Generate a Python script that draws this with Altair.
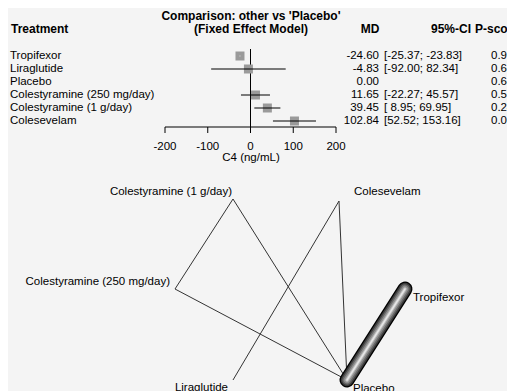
import altair as alt
import pandas as pd

# ---------------- data ----------------
treatments = ["Tropifexor", "Liraglutide", "Placebo",
              "Colestyramine (250 mg/day)", "Colestyramine (1 g/day)", "Colesevelam"]
md = [-24.60, -4.83, 0.00, 11.65, 39.45, 102.84]
ci_lower = [-25.37, -92.00, None, -22.27, 8.95, 52.52]
ci_upper = [-23.83, 82.34, None, 45.57, 69.95, 153.16]
pscore = [0.93, 0.67, 0.64, 0.51, 0.24, 0.00]
axis_ticks = [-200, -100, 0, 100, 200]

node_names = ["Colestyramine (1 g/day)", "Colesevelam", "Colestyramine (250 mg/day)",
              "Tropifexor", "Liraglutide", "Placebo"]
node_x = [-57, 49, -115, 115, -57, 57]
node_y = [91, 89, 1, 1, -90, -90]
edge_from = ["Colestyramine (1 g/day)", "Colestyramine (1 g/day)", "Colestyramine (250 mg/day)",
             "Colesevelam", "Colesevelam", "Tropifexor"]
edge_to = ["Colestyramine (250 mg/day)", "Placebo", "Placebo",
           "Liraglutide", "Placebo", "Placebo"]
edge_studies = [1, 1, 1, 1, 1, 5]

FONT = "Liberation Sans"
FS = 11.5

# ---------------- tables ----------------
def fmt_ci(lo, hi):
    if lo is None:
        return ""
    return "[" + (" " if lo >= 0 and lo < 10 else "") + f"{lo:.2f}; {hi:.2f}]"

forest = pd.DataFrame({
    "row": list(range(len(treatments))),
    "treatment": treatments,
    "md": md,
    "lower": ci_lower,
    "upper": ci_upper,
    "md_text": [f"{v:.2f}" for v in md],
    "ci_text": [fmt_ci(lo, hi) for lo, hi in zip(ci_lower, ci_upper)],
    "p_text": [f"{p:.2f}" for p in pscore],
})
ticks = pd.DataFrame({"t": axis_ticks, "lab": [str(t) for t in axis_ticks]})

pos = {n: (x, y) for n, x, y in zip(node_names, node_x, node_y)}
edges = pd.DataFrame({
    "a": edge_from, "b": edge_to, "n": edge_studies,
    "x": [pos[a][0] for a in edge_from], "y": [pos[a][1] for a in edge_from],
    "x2": [pos[b][0] for b in edge_to], "y2": [pos[b][1] for b in edge_to],
})
nodes = pd.DataFrame({"name": node_names, "x": node_x, "y": node_y})

# ---------------- scales (chart px = image px - 8) ----------------
FX = alt.Scale(domain=[-200, 200], range=[157, 328])
FY = alt.Scale(domain=[0, 5], range=[48, 113])
NX = alt.Scale(domain=[-100, 100], range=[182, 382])
NY = alt.Scale(domain=[-100, 100], range=[382, 182])

layers = []

def txt(text, x, y, align="left", bold=False, size=FS):
    return alt.Chart(pd.DataFrame({"t": [text]})).mark_text(
        align=align, baseline="middle", font=FONT, fontSize=size,
        fontWeight="bold" if bold else "normal", color="black"
    ).encode(text="t:N", x=alt.value(x), y=alt.value(y))

# headers
layers.append(txt("Comparison: other vs 'Placebo'", 243, 8, "center", True, 12))
layers.append(txt("(Fixed Effect Model)", 243, 21, "center", True, 12))
layers.append(txt("Treatment", 3, 21, "left", True, 12))
layers.append(txt("MD", 362, 21, "center", True, 12))
layers.append(txt("95%-CI", 463, 21, "right", True, 12))
layers.append(txt("P-score", 467, 21, "left", True, 12))

base = alt.Chart(forest)
yrow = alt.Y("row:Q", scale=FY, axis=None)

# row labels and columns
for field, xpx, align in [("treatment", 2, "left"), ("md_text", 371, "right"),
                          ("ci_text", 376, "left"), ("p_text", 483, "left")]:
    layers.append(base.mark_text(align=align, baseline="middle", font=FONT, fontSize=FS,
                                 color="black").encode(text=f"{field}:N", x=alt.value(xpx), y=yrow))

# zero line
layers.append(alt.Chart(pd.DataFrame({"z": [0]})).mark_rule(color="black", strokeWidth=1).encode(
    x=alt.X("z:Q", scale=FX, axis=None), y=alt.value(41), y2=alt.value(119)))

# squares and CIs
ci_rows = base.transform_filter("datum.lower != null")
layers.append(ci_rows.mark_square(size=81, color="#9a9a9a", opacity=1).encode(
    x=alt.X("md:Q", scale=FX, axis=None), y=yrow))
layers.append(ci_rows.transform_calculate(
    w="datum.upper - datum.lower"
).mark_rule(strokeWidth=1).encode(
    x=alt.X("lower:Q", scale=FX, axis=None), x2="upper:Q", y=yrow,
    color=alt.condition("datum.w < 15", alt.value("white"), alt.value("black"))))

# x axis drawn from tick data
layers.append(alt.Chart(pd.DataFrame({"a": [axis_ticks[0]], "b": [axis_ticks[-1]]})).mark_rule(
    color="black", strokeWidth=1).encode(
    x=alt.X("a:Q", scale=FX, axis=None), x2="b:Q", y=alt.value(119)))
layers.append(alt.Chart(ticks).mark_rule(color="black", strokeWidth=1).encode(
    x=alt.X("t:Q", scale=FX, axis=None), y=alt.value(119), y2=alt.value(125)))
layers.append(alt.Chart(ticks).mark_text(font=FONT, fontSize=FS, baseline="middle", color="black").encode(
    x=alt.X("t:Q", scale=FX, axis=None), y=alt.value(139), text="lab:N"))
layers.append(txt("C4 (ng/mL)", 243, 150, "center"))

# ---------------- network graph ----------------
ex = alt.X("x:Q", scale=NX, axis=None)
ey = alt.Y("y:Q", scale=NY, axis=None)
thin = alt.Chart(edges).transform_filter("datum.n == 1")
layers.append(thin.mark_rule(color="#333333", strokeWidth=1).encode(x=ex, y=ey, x2="x2:Q", y2="y2:Q"))
thick = alt.Chart(edges).transform_filter("datum.n > 1")
for w, c in [(15, "#000000"), (12.5, "#3a3a3a"), (9.5, "#666666"), (6.5, "#8f8f8f"),
             (3.5, "#bdbdbd"), (1.5, "#e6e6e6")]:
    layers.append(thick.mark_rule(color=c, strokeWidth=w, strokeCap="round").encode(
        x=ex, y=ey, x2="x2:Q", y2="y2:Q"))

label_offsets = {
    "Colestyramine (1 g/day)": ("right", -1, -7),
    "Colestyramine (250 mg/day)": ("right", -5, -7),
    "Liraglutide": ("right", -5, 8),
    "Colesevelam": ("left", 15, -9),
    "Tropifexor": ("left", 8, 9),
    "Placebo": ("left", 6, 9),
}
for name, (align, dx, dy) in label_offsets.items():
    layers.append(alt.Chart(nodes).transform_filter(alt.datum.name == name).mark_text(
        align=align, baseline="middle", dx=dx, dy=dy, font=FONT, fontSize=FS, color="black"
    ).encode(x=ex, y=ey, text="name:N"))

chart = alt.layer(*layers).resolve_scale(x="independent", y="independent").properties(
    width=499, height=383, autosize=alt.AutoSizeParams(type="none"), padding=0,
    background="#f4f4f4"
).configure_view(stroke=None)

chart.save("out.html", embed_options={"renderer": "svg", "actions": False})
